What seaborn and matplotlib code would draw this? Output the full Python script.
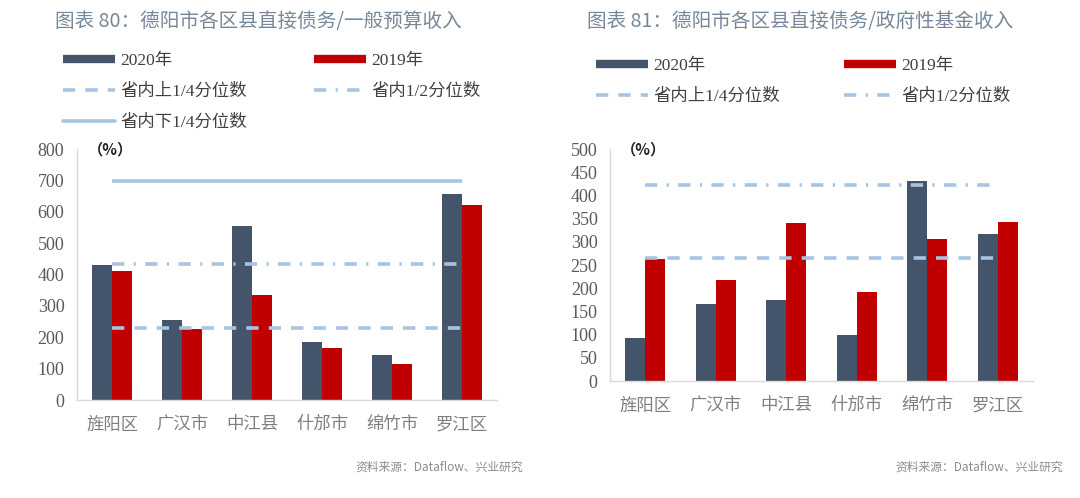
import matplotlib
matplotlib.use("Agg")
import matplotlib.pyplot as plt
from matplotlib.lines import Line2D
import seaborn as sns
import pandas as pd

sns.set_theme(style="white")
plt.rcParams['font.family'] = ['Liberation Serif', 'Noto Sans CJK SC', 'DejaVu Sans']

# ---------------- data ----------------
districts = ["旌阳区", "广汉市", "中江县", "什邡市", "绵竹市", "罗江区"]
series_names = ["2020年", "2019年"]

left_2020 = [430, 255, 553, 186, 145, 657]
left_2019 = [411, 226, 336, 166, 116, 623]
left_q_upper = 231   # 省内上1/4分位数
left_q_mid = 432     # 省内1/2分位数
left_q_lower = 697   # 省内下1/4分位数

right_2020 = [93, 165, 174, 100, 431, 317]
right_2019 = [262, 217, 340, 191, 307, 343]
right_q_upper = 266
right_q_mid = 422

left_title = "图表 80：德阳市各区县直接债务/一般预算收入"
right_title = "图表 81：德阳市各区县直接债务/政府性基金收入"
source_text = "资料来源：Dataflow、兴业研究"
line_labels = ["省内上1/4分位数", "省内1/2分位数", "省内下1/4分位数"]

C2020 = "#44546A"
C2019 = "#C00000"
CLINE = "#A7C4E2"
TITLE_C = "#76879A"
DASH = (0, (3.4, 2.8))
DASHDOT = (0, (3.4, 2.6, 0.6, 2.6))
SERIF = ['Liberation Serif', 'Noto Sans CJK SC']

fig = plt.figure(figsize=(10.8, 4.98), dpi=100)

def long_df(v20, v19):
    return pd.DataFrame({
        "区县": districts * 2,
        "年份": [series_names[0]] * len(districts) + [series_names[1]] * len(districts),
        "值": list(v20) + list(v19),
    })

def draw(ax, v20, v19, ymax, ystep, lines, pct_x):
    df = long_df(v20, v19)
    sns.barplot(data=df, x="区县", y="值", hue="年份", palette=[C2020, C2019],
                width=0.57, ax=ax, legend=False, saturation=1, edgecolor="none")
    n = len(districts)
    for val, ls in lines:
        ax.hlines(val, 0, n - 1, colors=CLINE, linestyles=ls, linewidth=2.6, zorder=3)
    ax.set_xlim(-0.5, n - 0.5)
    ax.set_ylim(0, ymax)
    yt = list(range(0, ymax + 1, ystep))
    ax.set_yticks(yt)
    ax.set_yticklabels([str(v) for v in yt], family=SERIF)
    ax.set_xlabel("")
    ax.set_ylabel("")
    for s in ["top", "right"]:
        ax.spines[s].set_visible(False)
    for s in ["left", "bottom"]:
        ax.spines[s].set_color("#D9D9D9")
        ax.spines[s].set_linewidth(1.0)
    ax.tick_params(axis="y", labelsize=13, colors="#595959", length=0, pad=9,
                   labelfontfamily=SERIF)
    ax.tick_params(axis="x", labelsize=12.5, colors="#7F7F7F", length=0, pad=11,
                   labelfontfamily=["Noto Sans CJK SC"])
    ax.set_xticks([i + 0.5 for i in range(n - 1)], minor=True)
    ax.tick_params(axis="x", which="minor", length=3, color="#D9D9D9", direction="out")
    ax.text(pct_x, 1.0, "（%）", transform=ax.transAxes, fontsize=11, fontweight="bold",
            color="#262626", va="center", ha="left", family=["Noto Sans CJK SC"])

axL = fig.add_axes([77/1080, 1 - 400/498, 420/1080, 251/498])
draw(axL, left_2020, left_2019, 800, 100,
     [(left_q_upper, DASH), (left_q_mid, DASHDOT), (left_q_lower, "-")], 0.025)

axR = fig.add_axes([610/1080, 1 - 381/498, 423/1080, 232/498])
draw(axR, right_2020, right_2019, 500, 50,
     [(right_q_upper, DASH), (right_q_mid, DASHDOT)], 0.025)

def legend(with_lower, anchor, colspace):
    h20 = Line2D([], [], color=C2020, linewidth=6, solid_capstyle="butt")
    h19 = Line2D([], [], color=C2019, linewidth=6, solid_capstyle="butt")
    hup = Line2D([], [], color=CLINE, linewidth=2.6, linestyle=DASH)
    hmid = Line2D([], [], color=CLINE, linewidth=2.6, linestyle=DASHDOT)
    hlo = Line2D([], [], color=CLINE, linewidth=2.6, linestyle="-")
    if with_lower:
        handles = [h20, hup, hlo, h19, hmid]
        labels = [series_names[0], line_labels[0], line_labels[2], series_names[1], line_labels[1]]
    else:
        handles = [h20, hup, h19, hmid]
        labels = [series_names[0], line_labels[0], series_names[1], line_labels[1]]
    leg = fig.legend(handles, labels, ncol=2, loc="upper left", bbox_to_anchor=anchor,
                     frameon=False, prop={"family": SERIF, "size": 12.5},
                     handlelength=3.0, handletextpad=0.3,
                     columnspacing=colspace, labelspacing=0.85, borderpad=0, borderaxespad=0)
    for t in leg.get_texts():
        t.set_color("#404040")
    return leg

legend(True, (63/1080, 1 - 53/498), 3.85)
legend(False, (596/1080, 1 - 58/498), 3.7)

fig.text(55/1080, 1 - 22/498, left_title, fontsize=14.1, color=TITLE_C, va="center", ha="left",
         family=["Noto Sans CJK SC"])
fig.text(587/1080, 1 - 22/498, right_title, fontsize=14.1, color=TITLE_C, va="center", ha="left",
         family=["Noto Sans CJK SC"])
fig.text(523/1080, 1 - 467/498, source_text, fontsize=8.5, color="#8C8C8C", va="center", ha="right",
         family=["Noto Sans CJK SC"])
fig.text(1063/1080, 1 - 467/498, source_text, fontsize=8.5, color="#8C8C8C", va="center", ha="right",
         family=["Noto Sans CJK SC"])

fig.savefig("out.png", dpi=100, facecolor="white")
